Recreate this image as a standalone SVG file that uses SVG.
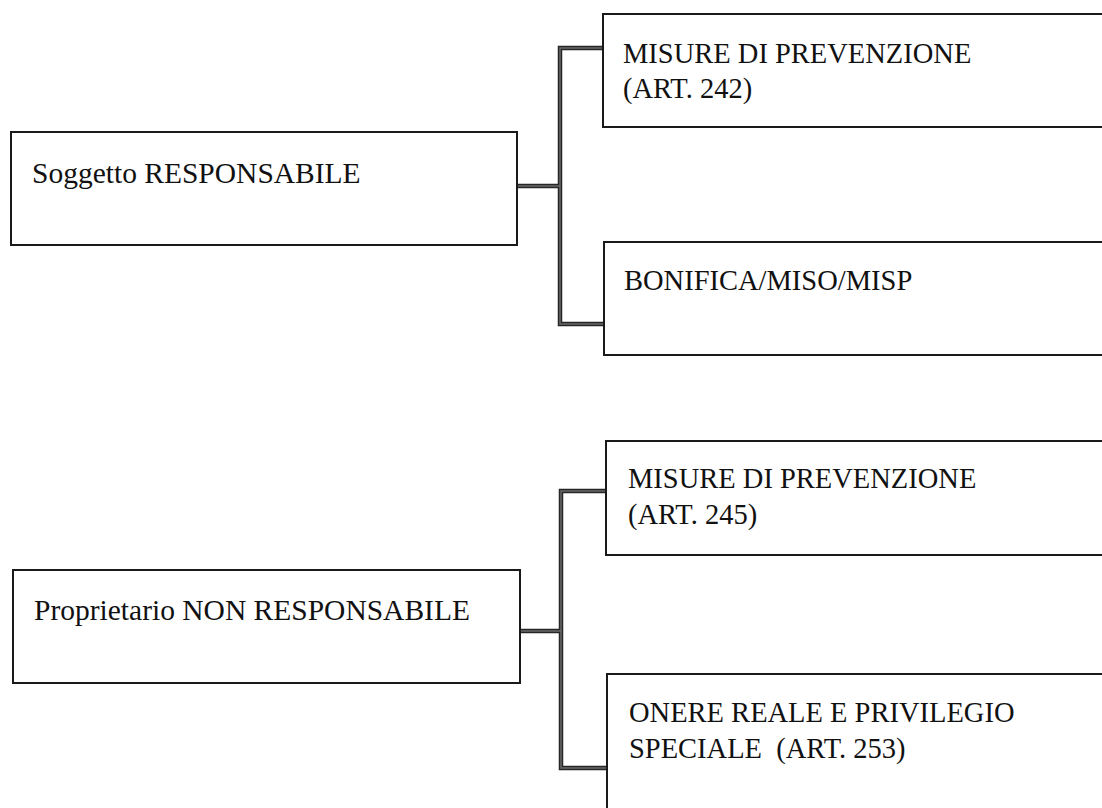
<svg xmlns="http://www.w3.org/2000/svg" width="1102" height="808" viewBox="0 0 1102 808">
<style>
.box{fill:#fff;stroke:#1a1a1a;stroke-width:2}
.lbl{font-family:"Liberation Serif","DejaVu Serif",serif;font-size:28.5px;fill:#111}
.big{font-size:29.5px}
.con{fill:none;stroke:#262626;stroke-width:4.5;stroke-linejoin:miter}
.con-in{fill:none;stroke:#6a6a6a;stroke-width:1.5;stroke-linejoin:miter}
</style>
<defs>
<path id="c1" d="M517,186 H560 M604,48 H560 V324 H604"/>
<path id="c2" d="M520,631 H561 M606,491 H561 V768 H607"/>
</defs>
<rect width="1102" height="808" fill="#fff"/>
<g id="connectors">
<use href="#c1" class="con"/>
<use href="#c1" class="con-in"/>
<use href="#c2" class="con"/>
<use href="#c2" class="con-in"/>
</g>
<g id="n-soggetto">
<rect class="box" x="11" y="132" width="506" height="113"/>
<text class="lbl big" x="32" y="183">Soggetto RESPONSABILE</text>
</g>
<g id="n-misure242">
<rect class="box" x="603" y="14" width="520" height="113"/>
<text class="lbl" x="623" y="63">MISURE DI PREVENZIONE</text>
<text class="lbl" x="623" y="98">(ART. 242)</text>
</g>
<g id="n-bonifica">
<rect class="box" x="604" y="242" width="520" height="113"/>
<text class="lbl" x="624" y="290">BONIFICA/MISO/MISP</text>
</g>
<g id="n-proprietario">
<rect class="box" x="13" y="570" width="507" height="113"/>
<text class="lbl big" x="34" y="620">Proprietario NON RESPONSABILE</text>
</g>
<g id="n-misure245">
<rect class="box" x="606" y="441" width="520" height="114"/>
<text class="lbl" x="628" y="488">MISURE DI PREVENZIONE</text>
<text class="lbl" x="628" y="524">(ART. 245)</text>
</g>
<g id="n-onere">
<rect class="box" x="607" y="674" width="520" height="160"/>
<text class="lbl" x="629" y="722">ONERE REALE E PRIVILEGIO</text>
<text class="lbl" x="629" y="758" xml:space="preserve">SPECIALE  (ART. 253)</text>
</g>
</svg>
